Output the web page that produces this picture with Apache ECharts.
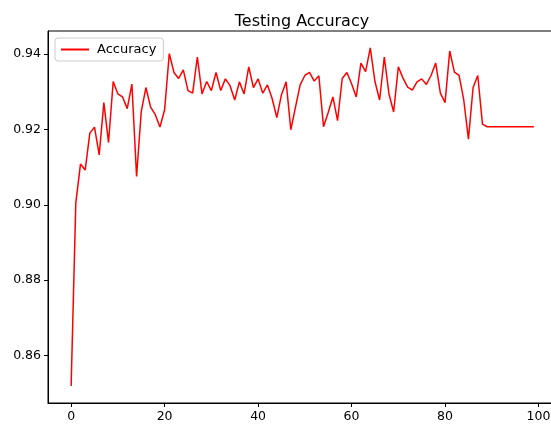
<!DOCTYPE html>
<html>
<head>
<meta charset="utf-8">
<script src="https://cdn.jsdelivr.net/npm/echarts@6/dist/echarts.min.js"></script>
<style>
  html, body { margin: 0; padding: 0; background: #fff; }
  #chart { width: 551px; height: 428px; }
</style>
</head>
<body>
<div id="chart"></div>
<script>
// Testing accuracy per epoch
const epochs = Array.from({ length: 100 }, (_, i) => i);
const accuracy = [
    0.8519, 0.9005, 0.9108, 0.9092, 0.9190, 0.9206, 0.9132, 0.9271, 0.9165, 0.9327,
    0.9294, 0.9286, 0.9255, 0.9320, 0.9075, 0.9247, 0.9311, 0.9259, 0.9239, 0.9206,
    0.9252, 0.9401, 0.9351, 0.9335, 0.9358, 0.9303, 0.9296, 0.9392, 0.9294, 0.9327,
    0.9303, 0.9351, 0.9303, 0.9334, 0.9316, 0.9278, 0.9326, 0.9294, 0.9366, 0.9311,
    0.9334, 0.9296, 0.9318, 0.9282, 0.9231, 0.9292, 0.9326, 0.9199, 0.9259, 0.9318,
    0.9343, 0.9351, 0.9328, 0.9342, 0.9207, 0.9245, 0.9286, 0.9223, 0.9335, 0.9351,
    0.9321, 0.9286, 0.9376, 0.9353, 0.9416, 0.9327, 0.9278, 0.9392, 0.9294, 0.9246,
    0.9366, 0.9336, 0.9312, 0.9304, 0.9326, 0.9334, 0.9319, 0.9343, 0.9376, 0.9296,
    0.9271, 0.9408, 0.9352, 0.9343, 0.9278, 0.9174, 0.9311, 0.9343, 0.9214, 0.9207,
    0.9207, 0.9207, 0.9207, 0.9207, 0.9207, 0.9207, 0.9207, 0.9207, 0.9207, 0.9207
];
const xTicks = [0, 20, 40, 60, 80, 100];
const yTicks = [0.86, 0.88, 0.90, 0.92, 0.94];

const chart = echarts.init(document.getElementById('chart'));
const font = 'DejaVu Sans';

// the plot box runs a little past the right edge of the picture
const plotLeft = 48, plotRight = 557;

chart.setOption({
    animation: false,
    textStyle: { fontFamily: font },
    title: {
        text: 'Testing Accuracy',
        left: 297,
        textAlign: 'center',
        top: 9,
        textStyle: { fontFamily: font, fontSize: 16, fontWeight: 'normal', color: '#000' }
    },
    legend: {
        data: ['Accuracy'],
        left: 55,
        top: 38,
        icon: 'rect',
        itemWidth: 28,
        itemHeight: 2,
        padding: [5, 7, 5, 6],
        borderColor: '#cccccc',
        borderWidth: 1,
        borderRadius: 3,
        backgroundColor: 'rgba(255,255,255,0.8)',
        textStyle: { fontFamily: font, fontSize: 13, color: '#000', padding: [0, 0, 0, 3] }
    },
    grid: {
        left: plotLeft,
        width: plotRight - plotLeft,
        top: 31,
        bottom: 25,
        outerBoundsMode: 'none',
        show: true,
        borderColor: '#000',
        borderWidth: 1
    },
    xAxis: {
        type: 'value',
        min: -4.95,
        max: 103.95,
        splitLine: { show: false },
        axisLine: { show: true, onZero: false, lineStyle: { color: '#000' } },
        axisTick: { show: true, length: 4, customValues: xTicks, lineStyle: { color: '#000' } },
        axisLabel: {
            customValues: xTicks,
            color: '#000',
            fontSize: 12.5,
            margin: 7
        }
    },
    yAxis: {
        type: 'value',
        min: 0.8474,
        max: 0.9461,
        splitLine: { show: false },
        axisLine: { show: true, onZero: false, lineStyle: { color: '#000' } },
        axisTick: { show: true, length: 4, customValues: yTicks, lineStyle: { color: '#000' } },
        axisLabel: {
            customValues: yTicks,
            color: '#000',
            fontSize: 12.5,
            margin: 7,
            formatter: v => v.toFixed(2)
        }
    },
    series: [{
        name: 'Accuracy',
        type: 'line',
        data: epochs.map((e, i) => [e, accuracy[i]]),
        showSymbol: false,
        lineStyle: { color: '#ff0000', width: 1.5 },
        itemStyle: { color: '#ff0000' }
    }]
});
</script>
</body>
</html>
